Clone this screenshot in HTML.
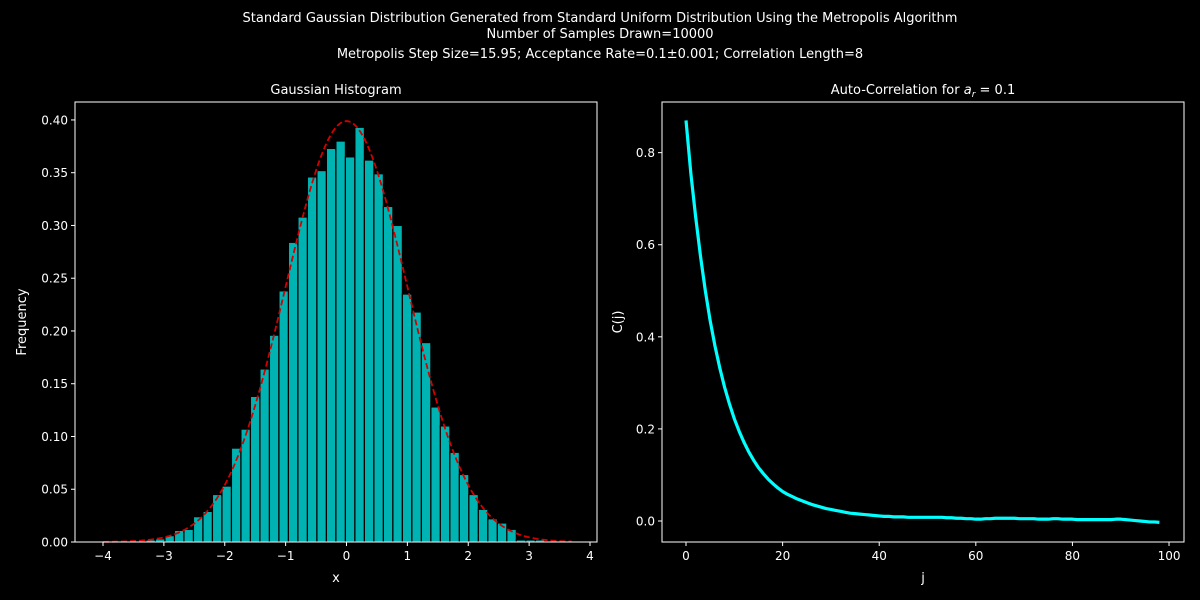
<!DOCTYPE html>
<html><head><meta charset="utf-8"><style>
html,body{margin:0;padding:0;background:#000;}
svg{display:block;font-family:"DejaVu Sans","Liberation Sans",sans-serif;}
</style></head><body>
<svg id="chart" width="1200" height="600" viewBox="0 0 1200 600">
<rect width="1200" height="600" fill="#000"/>
<text x="600" y="22" fill="#fff" font-size="13" text-anchor="middle">Standard Gaussian Distribution Generated from Standard Uniform Distribution Using the Metropolis Algorithm</text>
<text x="600" y="38" fill="#fff" font-size="13" text-anchor="middle">Number of Samples Drawn=10000</text>
<text x="600" y="58" fill="#fff" font-size="13" text-anchor="middle">Metropolis Step Size=15.95; Acceptance Rate=0.1±0.001; Correlation Length=8</text>
<text x="336" y="94" fill="#fff" font-size="13" text-anchor="middle">Gaussian Histogram</text>
<text x="923" y="94" fill="#fff" font-size="13" text-anchor="middle">Auto-Correlation for <tspan font-style="italic">a</tspan><tspan font-style="italic" font-size="9" dy="3">r</tspan><tspan dy="-3"> = 0.1</tspan></text>
<g id="left"></g>
<g id="right"></g>
<text x="336" y="582" fill="#fff" font-size="13" text-anchor="middle">x</text>
<text x="26" y="322" fill="#fff" font-size="13" text-anchor="middle" transform="rotate(-90 26 322)">Frequency</text>
<text x="923" y="582" fill="#fff" font-size="13" text-anchor="middle">j</text>
<text x="622" y="322" fill="#fff" font-size="13" text-anchor="middle" transform="rotate(-90 622 322)">C(j)</text>
</svg>
<script>
const binStart = -3.45;
const binWidth = 0.156;
const histValues = [0.001,0.002,0.003,0.006,0.011,0.012,0.024,0.029,0.045,0.053,0.089,0.107,0.138,0.164,0.196,0.238,0.284,0.308,0.346,0.352,0.373,0.380,0.365,
0.393,0.362,0.349,0.318,0.300,0.235,0.218,0.189,0.128,0.110,0.085,0.064,0.045,0.031,0.022,0.018,0.012,0.002,0.002,0.002,0.001];
const histXTicks = [-4,-3,-2,-1,0,1,2,3,4];
const histYTicks = [0,0.05,0.10,0.15,0.20,0.25,0.30,0.35,0.40];
const histYLabels = ["0.00","0.05","0.10","0.15","0.20","0.25","0.30","0.35","0.40"];
const corrValues = [0.870,0.755,0.660,0.575,0.500,0.435,0.380,0.332,0.290,0.254,0.222,0.195,0.171,0.150,0.132,0.116,0.103,0.091,0.081,0.072,
0.064,0.058,0.053,0.048,0.044,0.040,0.036,0.033,0.030,0.027,0.025,0.023,0.021,0.019,0.017,0.016,0.015,0.014,0.013,0.012,
0.011,0.010,0.010,0.009,0.009,0.009,0.008,0.008,0.008,0.008,0.008,0.008,0.008,0.008,0.007,0.007,0.006,0.006,0.005,0.005,
0.004,0.004,0.005,0.005,0.006,0.006,0.006,0.006,0.006,0.005,0.005,0.005,0.005,0.004,0.004,0.004,0.005,0.005,0.004,0.004,
0.004,0.003,0.003,0.003,0.003,0.003,0.003,0.003,0.003,0.004,0.004,0.003,0.002,0.001,0.000,-0.001,-0.002,-0.002,-0.003];
const corrXTicks = [0,20,40,60,80,100];
const corrYTicks = [0,0.2,0.4,0.6,0.8];
const corrYLabels = ["0.0","0.2","0.4","0.6","0.8"];

const NS="http://www.w3.org/2000/svg";
function mk(parent,tag,attrs){const e=document.createElementNS(NS,tag);for(const k in attrs)e.setAttribute(k,attrs[k]);parent.appendChild(e);return e;}

// left panel
const L=document.getElementById('left');
const lx0=75,lx1=597,ly0=102,ly1=542;
const xmin=-4.46,xmax=4.115,ymin=0,ymax=0.417;
const hx=v=>lx0+(v-xmin)/(xmax-xmin)*(lx1-lx0);
const hy=v=>ly1-(v-ymin)/(ymax-ymin)*(ly1-ly0);
histValues.forEach((v,i)=>{
  const a=binStart+i*binWidth;
  const r=mk(L,'rect',{x:hx(a),y:hy(v),width:hx(a+binWidth)-hx(a),height:hy(0)-hy(v),fill:'#00b3b3',stroke:'#000','stroke-width':1.2});
  
  
});
let d='';
for(let k=0;k<=200;k++){const x=-4+k*7.7/200;const y=Math.exp(-x*x/2)/Math.sqrt(2*Math.PI);d+=(k?'L':'M')+hx(x).toFixed(2)+','+hy(y).toFixed(2);}
const pdf=mk(L,'path',{d:d,fill:'none',stroke:'#d40000','stroke-width':1.8,'stroke-dasharray':'6,3'});


const lf=mk(L,'rect',{x:lx0,y:ly0,width:lx1-lx0,height:ly1-ly0,fill:'none',stroke:'#fff','stroke-width':1});


histXTicks.forEach(t=>{
  mk(L,'line',{x1:hx(t),x2:hx(t),y1:ly1,y2:ly1+4,stroke:'#fff'});
  const tx=mk(L,'text',{x:hx(t),y:ly1+18,fill:'#fff','font-size':12,'text-anchor':'middle'});
  tx.textContent=(t<0?'−'+(-t):String(t));
  
  
});
histYTicks.forEach((t,i)=>{
  mk(L,'line',{x1:lx0-4,x2:lx0,y1:hy(t),y2:hy(t),stroke:'#fff'});
  const tx=mk(L,'text',{x:lx0-7,y:hy(t)+4.5,fill:'#fff','font-size':12,'text-anchor':'end'});
  tx.textContent=histYLabels[i];
  
  
});

// right panel
const R=document.getElementById('right');
const rx0=662,rx1=1184,ry0=102,ry1=542;
const jmin=-4.97,jmax=103.1,cmin=-0.0456,cmax=0.91;
const cx=v=>rx0+(v-jmin)/(jmax-jmin)*(rx1-rx0);
const cy=v=>ry1-(v-cmin)/(cmax-cmin)*(ry1-ry0);
let d2='';
corrValues.forEach((v,j)=>{d2+=(j?'L':'M')+cx(j).toFixed(2)+','+cy(v).toFixed(2);});
const cl=mk(R,'path',{d:d2,fill:'none',stroke:'#00ffff','stroke-width':3.2,'stroke-linejoin':'round'});


const rf=mk(R,'rect',{x:rx0,y:ry0,width:rx1-rx0,height:ry1-ry0,fill:'none',stroke:'#fff','stroke-width':1});


corrXTicks.forEach(t=>{
  mk(R,'line',{x1:cx(t),x2:cx(t),y1:ry1,y2:ry1+4,stroke:'#fff'});
  const tx=mk(R,'text',{x:cx(t),y:ry1+18,fill:'#fff','font-size':12,'text-anchor':'middle'});
  tx.textContent=String(t);
  
  
});
corrYTicks.forEach((t,i)=>{
  mk(R,'line',{x1:rx0-4,x2:rx0,y1:cy(t),y2:cy(t),stroke:'#fff'});
  const tx=mk(R,'text',{x:rx0-7,y:cy(t)+4.5,fill:'#fff','font-size':12,'text-anchor':'end'});
  tx.textContent=corrYLabels[i];
  
  
});
</script>
</body></html>
